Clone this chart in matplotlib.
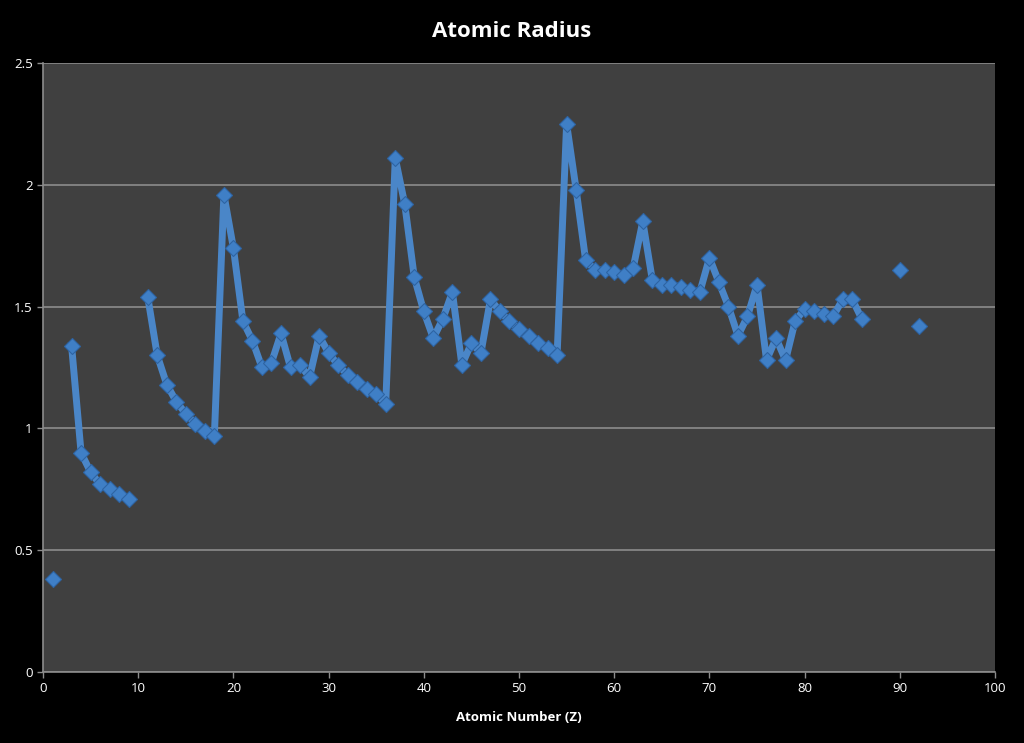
import numpy as np
import matplotlib
matplotlib.use("Agg")
import matplotlib.pyplot as plt

# ── data: atomic number vs. radius (NaN = missing value, breaks the line) ────
z_numbers = list(range(1, 93))
radius = [
    0.38, np.nan, 1.34, 0.90, 0.82, 0.77, 0.75, 0.73, 0.71, np.nan,   # 1-10
    1.54, 1.30, 1.18, 1.11, 1.06, 1.02, 0.99, 0.97, 1.96, 1.74,       # 11-20
    1.44, 1.36, 1.25, 1.27, 1.39, 1.25, 1.26, 1.21, 1.38, 1.31,       # 21-30
    1.26, 1.22, 1.19, 1.16, 1.14, 1.10, 2.11, 1.92, 1.62, 1.48,       # 31-40
    1.37, 1.45, 1.56, 1.26, 1.35, 1.31, 1.53, 1.48, 1.44, 1.41,       # 41-50
    1.38, 1.35, 1.33, 1.30, 2.25, 1.98, 1.69, 1.65, 1.65, 1.64,       # 51-60
    1.63, 1.66, 1.85, 1.61, 1.59, 1.59, 1.58, 1.57, 1.56, 1.70,       # 61-70
    1.60, 1.50, 1.38, 1.46, 1.59, 1.28, 1.37, 1.28, 1.44, 1.49,       # 71-80
    1.48, 1.47, 1.46, 1.53, 1.53, 1.45, np.nan, np.nan, np.nan, 1.65, # 81-90
    np.nan, 1.42,                                                      # 91-92
]

x_ticks = list(range(0, 101, 10))
y_ticks = [0, 0.5, 1, 1.5, 2, 2.5]
y_tick_labels = ["0", "0.5", "1", "1.5", "2", "2.5"]

plt.rcParams["font.family"] = ["Open Sans", "DejaVu Sans"]

fig = plt.figure(figsize=(10.24, 7.43), dpi=100, facecolor="black")
ax = fig.add_axes([0.042, 0.0956, 0.9297, 0.8196])
ax.set_facecolor("#404040")

ax.plot(z_numbers, radius, color="#4a86c8", lw=5, solid_joinstyle="round",
        marker="D", markersize=8, markerfacecolor="#3f7fc6",
        markeredgecolor="#2e64a3", markeredgewidth=0.8, zorder=3)

ax.set_xlim(0, 100)
ax.set_ylim(0, 2.5)
ax.set_xticks(x_ticks)
ax.set_yticks(y_ticks)
ax.set_yticklabels(y_tick_labels)
ax.grid(axis="y", color="#8c8c8c", lw=1.2)
ax.set_axisbelow(True)

for side in ["top", "right"]:
    ax.spines[side].set_visible(False)
for side in ["left", "bottom"]:
    ax.spines[side].set_color("#8c8c8c")
    ax.spines[side].set_linewidth(1.2)

ax.tick_params(colors="#8c8c8c", labelcolor="white", labelsize=9.5,
               length=4, width=1)

ax.set_xlabel("Atomic Number (Z)", color="white", fontsize=9.5,
              fontweight="bold", labelpad=11)
fig.suptitle("Atomic Radius", color="white", fontsize=16, fontweight="bold",
             y=0.972)

plt.savefig("out.png", dpi=100, facecolor="black")
